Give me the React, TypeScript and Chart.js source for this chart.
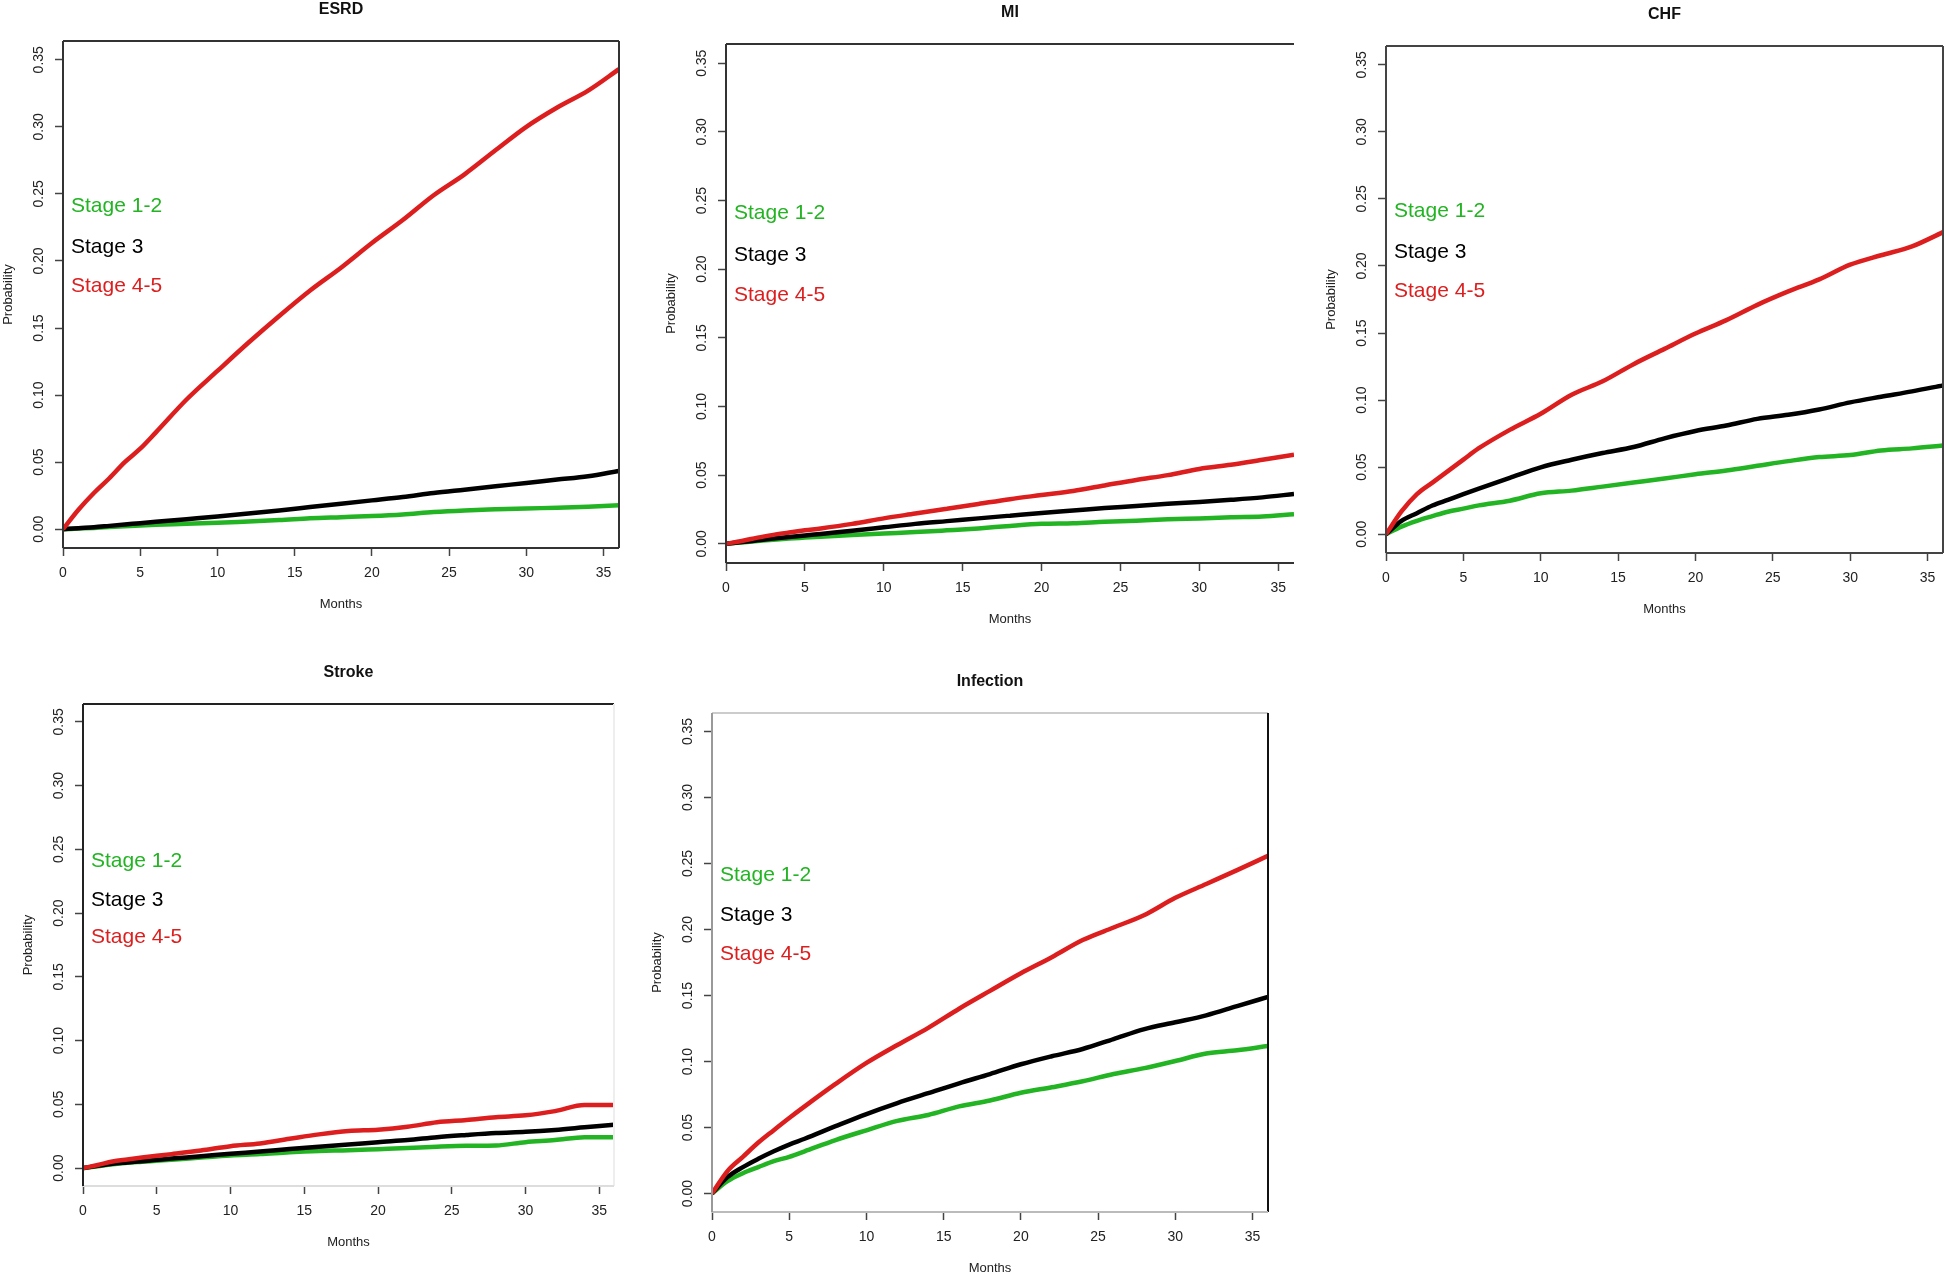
import React, { useEffect, useRef } from 'react';
import { Chart, registerables } from 'chart.js';

Chart.register(...registerables);

// ---------- data ----------
const MONTHS = [0, 1, 2, 3, 4, 5, 6, 8, 10, 12, 14, 16, 18, 20, 22, 24, 26, 28, 30, 32, 34, 36];
const X_MIN = 0;
const X_MAX = 36;
const X_STEP = 5;
const Y_MIN = -0.014;
const Y_MAX = 0.364;
const Y_STEP = 0.05;

const STAGE_NAMES = ['Stage 1-2', 'Stage 3', 'Stage 4-5'];
const STAGE_LABEL_Y = [0.241, 0.2105, 0.181];

const ESRD_S12 = [0, 0.0005, 0.001, 0.0016, 0.0022, 0.0028, 0.0033, 0.004, 0.0048, 0.0058, 0.0068, 0.0082, 0.009, 0.0098, 0.011, 0.0128, 0.014, 0.0148, 0.0155, 0.016, 0.0168, 0.0178];
const ESRD_S3 = [0, 0.0008, 0.0015, 0.0025, 0.0035, 0.0045, 0.0055, 0.0075, 0.0095, 0.0118, 0.014, 0.0165, 0.019, 0.0215, 0.024, 0.027, 0.0295, 0.032, 0.0345, 0.037, 0.0395, 0.0435];
const ESRD_S45 = [0, 0.0145, 0.027, 0.038, 0.05, 0.06, 0.072, 0.0967, 0.118, 0.139, 0.159, 0.178, 0.195, 0.2134, 0.2305, 0.249, 0.2646, 0.2825, 0.3, 0.3144, 0.327, 0.343];

const MI_S12 = [0, 0.001, 0.002, 0.003, 0.0038, 0.0045, 0.0052, 0.0064, 0.0075, 0.0085, 0.0098, 0.0112, 0.013, 0.0145, 0.015, 0.016, 0.0168, 0.0178, 0.0185, 0.0193, 0.0198, 0.0215];
const MI_S3 = [0, 0.0012, 0.0025, 0.0038, 0.005, 0.006, 0.0072, 0.0095, 0.012, 0.0145, 0.0165, 0.0185, 0.0205, 0.0225, 0.0242, 0.026, 0.0275, 0.0292, 0.0305, 0.032, 0.0338, 0.0363];
const MI_S45 = [0, 0.002, 0.0045, 0.0065, 0.0082, 0.0098, 0.0112, 0.0145, 0.0185, 0.022, 0.0255, 0.029, 0.0325, 0.0355, 0.0385, 0.0425, 0.0465, 0.05, 0.0545, 0.0575, 0.0612, 0.0649];

const CHF_S12 = [0, 0.0057, 0.01, 0.0135, 0.0168, 0.0191, 0.0215, 0.025, 0.0305, 0.0325, 0.0355, 0.0385, 0.0415, 0.0447, 0.0475, 0.051, 0.0545, 0.0575, 0.059, 0.0625, 0.064, 0.0661];
const CHF_S3 = [0, 0.01, 0.0157, 0.0214, 0.0256, 0.0299, 0.034, 0.042, 0.0499, 0.0555, 0.0605, 0.065, 0.0715, 0.077, 0.081, 0.086, 0.089, 0.093, 0.0983, 0.1025, 0.1065, 0.111];
const CHF_S45 = [0, 0.017, 0.0299, 0.0385, 0.047, 0.0556, 0.0641, 0.0778, 0.0898, 0.104, 0.114, 0.1268, 0.1382, 0.1496, 0.1596, 0.171, 0.181, 0.19, 0.201, 0.208, 0.2146, 0.2252];

const STROKE_S12 = [0, 0.0015, 0.003, 0.0042, 0.005, 0.0058, 0.0065, 0.0083, 0.01, 0.011, 0.0125, 0.0135, 0.014, 0.0149, 0.0158, 0.0168, 0.0175, 0.0178, 0.0204, 0.022, 0.0243, 0.0243];
const STROKE_S3 = [0, 0.0018, 0.0035, 0.0045, 0.0055, 0.0065, 0.0075, 0.0093, 0.0113, 0.013, 0.015, 0.0168, 0.0185, 0.0204, 0.022, 0.0243, 0.026, 0.0275, 0.0285, 0.03, 0.032, 0.034];
const STROKE_S45 = [0, 0.0025, 0.0052, 0.0068, 0.0083, 0.0097, 0.011, 0.0138, 0.0172, 0.0194, 0.023, 0.0265, 0.0291, 0.0301, 0.0324, 0.036, 0.0378, 0.04, 0.0414, 0.0447, 0.0495, 0.0495];

const INF_S12 = [0, 0.0093, 0.0154, 0.02, 0.0245, 0.0278, 0.032, 0.0405, 0.0479, 0.055, 0.0595, 0.066, 0.0705, 0.0763, 0.0805, 0.085, 0.0905, 0.095, 0.1004, 0.106, 0.1085, 0.1118];
const INF_S3 = [0, 0.0124, 0.02, 0.0263, 0.032, 0.0371, 0.0415, 0.051, 0.0602, 0.0685, 0.076, 0.0835, 0.0905, 0.0979, 0.104, 0.1095, 0.117, 0.1245, 0.1297, 0.135, 0.142, 0.1489];
const INF_S45 = [0, 0.017, 0.0278, 0.0386, 0.048, 0.0572, 0.066, 0.083, 0.0989, 0.1125, 0.1255, 0.14, 0.1535, 0.1668, 0.179, 0.192, 0.2015, 0.211, 0.224, 0.2345, 0.245, 0.2558];

const TITLES = ['ESRD', 'MI', 'CHF', 'Stroke', 'Infection'];
const SERIES = [
  [ESRD_S12, ESRD_S3, ESRD_S45],
  [MI_S12, MI_S3, MI_S45],
  [CHF_S12, CHF_S3, CHF_S45],
  [STROKE_S12, STROKE_S3, STROKE_S45],
  [INF_S12, INF_S3, INF_S45],
];

// ---------- layout & style ----------
const STAGE_COLORS = ['#22b422', '#000000', '#dc1e1e'];
const FONT = '"Liberation Sans", Arial, Helvetica, sans-serif';
const AXIS_W = 90;
const AXIS_H = 80;
const PAD_TOP = 50;
const PAD_RIGHT = 10;

// plot box (frame) of each panel, in page pixels
const BOXES = [
  { L: 63, T: 41, R: 619, B: 548 },
  { L: 726, T: 44, R: 1294, B: 563 },
  { L: 1386, T: 46, R: 1943, B: 553 },
  { L: 83, T: 704, R: 614, B: 1186 },
  { L: 712, T: 713, R: 1268, B: 1212 },
];
// frame colours [top, right, bottom, left]; null = not drawn
const FRAMES = [
  ['#333', '#333', '#333', '#333'],
  ['#333', null, '#333', '#333'],
  ['#444', '#444', '#444', '#444'],
  ['#222', '#eeeeee', '#dddddd', '#222'],
  ['#cccccc', '#111', '#bbbbbb', '#999999'],
];

function makeDecor(idx: number) {
  return {
    id: 'decor' + idx,
    afterDraw(chart: any) {
      const ctx = chart.ctx;
      const a = chart.chartArea;
      const xs = chart.scales.x;
      const ys = chart.scales.y;
      ctx.save();
      // frame
      const fr = FRAMES[idx];
      const segs = [
        [a.left, a.top, a.right, a.top],
        [a.right, a.top, a.right, a.bottom],
        [a.left, a.bottom, a.right, a.bottom],
        [a.left, a.top, a.left, a.bottom],
      ];
      segs.forEach((s, i) => {
        if (!fr[i]) return;
        ctx.strokeStyle = fr[i];
        ctx.lineWidth = 2;
        ctx.beginPath();
        ctx.moveTo(s[0], s[1]);
        ctx.lineTo(s[2], s[3]);
        ctx.stroke();
      });
      // title
      ctx.fillStyle = '#111';
      ctx.textAlign = 'center';
      ctx.textBaseline = 'middle';
      ctx.font = 'bold 16px ' + FONT;
      ctx.fillText(TITLES[idx], (a.left + a.right) / 2, a.top - 31);
      // x tick labels
      ctx.font = '14px ' + FONT;
      ctx.fillStyle = '#222';
      xs.ticks.forEach((t: any) => {
        ctx.fillText(String(t.value), xs.getPixelForValue(t.value), a.bottom + 25);
      });
      // y tick labels (rotated)
      ys.ticks.forEach((t: any) => {
        ctx.save();
        ctx.translate(a.left - 24, ys.getPixelForValue(t.value));
        ctx.rotate(-Math.PI / 2);
        ctx.fillText(Number(t.value).toFixed(2), 0, 0);
        ctx.restore();
      });
      // axis titles
      ctx.font = '13px ' + FONT;
      ctx.fillText('Months', (a.left + a.right) / 2, a.bottom + 56);
      ctx.save();
      ctx.translate(a.left - 55, (a.top + a.bottom) / 2);
      ctx.rotate(-Math.PI / 2);
      ctx.fillText('Probability', 0, 0);
      ctx.restore();
      // stage labels
      ctx.font = '21px ' + FONT;
      ctx.textAlign = 'left';
      STAGE_NAMES.forEach((n, i) => {
        ctx.fillStyle = STAGE_COLORS[i];
        ctx.fillText(n, a.left + 8, ys.getPixelForValue(STAGE_LABEL_Y[i]));
      });
      ctx.restore();
    },
  };
}

function Panel({ idx }: { idx: number }) {
  const ref = useRef<HTMLCanvasElement>(null);
  const box = BOXES[idx];
  const w = box.R - box.L + AXIS_W + PAD_RIGHT;
  const h = box.B - box.T + PAD_TOP + AXIS_H;

  useEffect(() => {
    const canvas = ref.current as HTMLCanvasElement;
    const series = SERIES[idx];
    // draw order: Stage 4-5 on top, then Stage 3, then Stage 1-2
    const datasets = [2, 1, 0].map((s) => ({
      label: STAGE_NAMES[s],
      data: MONTHS.map((m, i) => ({ x: m, y: series[s][i] })),
      borderColor: STAGE_COLORS[s],
      backgroundColor: STAGE_COLORS[s],
      borderWidth: 4.5,
      pointRadius: 0,
      cubicInterpolationMode: 'monotone',
      fill: false,
    }));
    const tickGrid = {
      drawOnChartArea: false,
      drawTicks: true,
      tickLength: 8,
      tickWidth: 1.5,
      tickColor: '#444',
      color: '#444',
    };
    const chart = new Chart(canvas, {
      type: 'line',
      data: { datasets },
      options: {
        responsive: false,
        animation: false,
        devicePixelRatio: 1,
        events: [],
        layout: { padding: { top: PAD_TOP, right: PAD_RIGHT, left: 0, bottom: 0 } },
        plugins: { legend: { display: false }, tooltip: { enabled: false }, title: { display: false } },
        scales: {
          x: {
            type: 'linear',
            min: X_MIN,
            max: X_MAX,
            ticks: { stepSize: X_STEP, includeBounds: false, display: false },
            grid: tickGrid,
            border: { display: false },
            afterFit: (s: any) => {
              s.height = AXIS_H;
              s.paddingLeft = 0;
              s.paddingRight = 0;
            },
          },
          y: {
            type: 'linear',
            min: Y_MIN,
            max: Y_MAX,
            ticks: { stepSize: Y_STEP, includeBounds: false, display: false },
            grid: tickGrid,
            border: { display: false },
            afterFit: (s: any) => {
              s.width = AXIS_W;
              s.paddingTop = 0;
              s.paddingBottom = 0;
            },
          },
        },
      } as any,
      plugins: [makeDecor(idx)],
    });
    return () => chart.destroy();
  }, [idx]);

  return (
    <canvas
      ref={ref}
      width={w}
      height={h}
      style={{ position: 'absolute', left: box.L - AXIS_W, top: box.T - PAD_TOP, width: w, height: h }}
    />
  );
}

export default function App() {
  return (
    <div
      style={{
        position: 'absolute',
        left: 0,
        top: 0,
        width: 1946,
        height: 1277,
        overflow: 'hidden',
        background: '#ffffff',
      }}
    >
      {TITLES.map((_, i) => (
        <Panel key={i} idx={i} />
      ))}
    </div>
  );
}
